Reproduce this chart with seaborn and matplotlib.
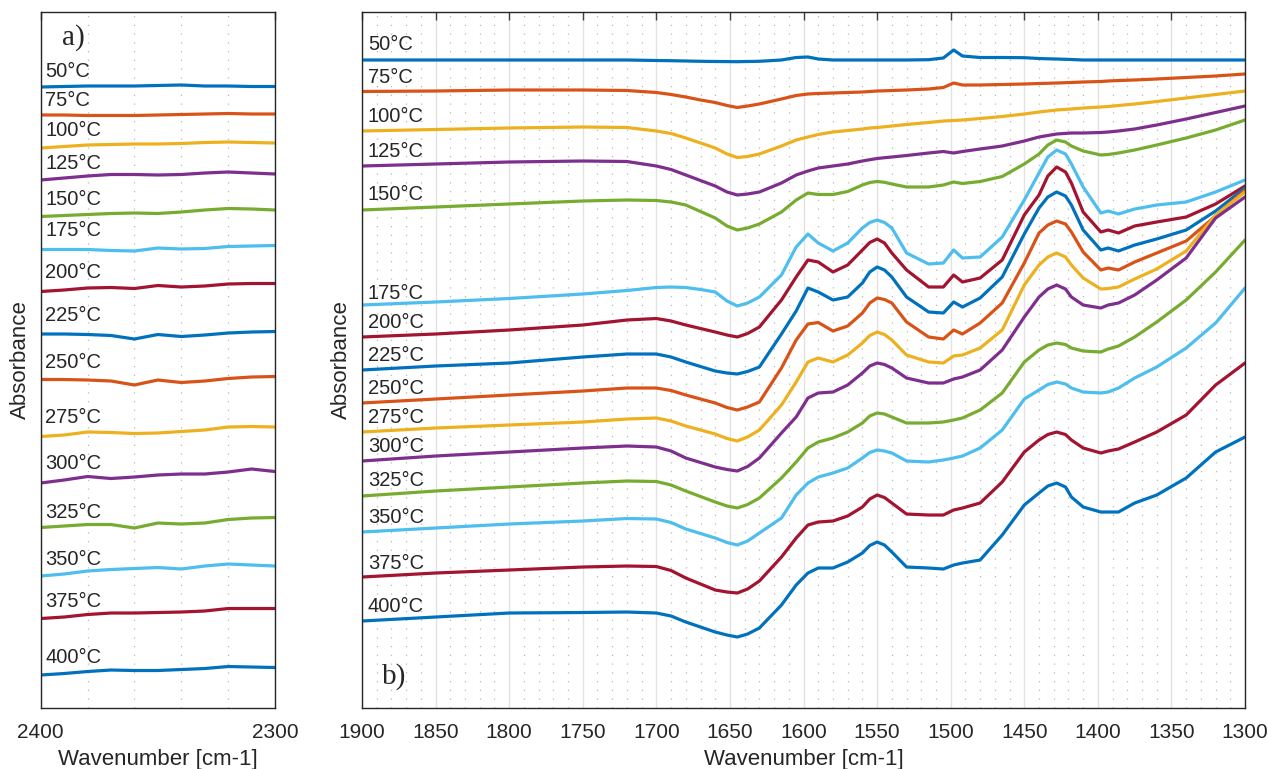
import pandas as pd
import matplotlib
matplotlib.use("Agg")
import matplotlib.pyplot as plt
import seaborn as sns
from matplotlib.ticker import MultipleLocator

# Temperatures and MATLAB-style line colours
temps = ["50°C", "75°C", "100°C", "125°C", "150°C", "175°C", "200°C", "225°C",
         "250°C", "275°C", "300°C", "325°C", "350°C", "375°C", "400°C"]
colors = ["#0072BD", "#D95319", "#EDB120", "#7E2F8E", "#77AC30", "#4DBEEE", "#A2142F",
          "#0072BD", "#D95319", "#EDB120", "#7E2F8E", "#77AC30", "#4DBEEE", "#A2142F",
          "#0072BD"]

# Panel a) 2400-2300 cm-1 (absorbance, arbitrary offset units)
wn_a = [2400, 2390, 2380, 2370, 2360, 2350, 2340, 2330, 2320, 2310, 2300]
a50 = [621, 621.5, 622, 622, 622, 622.5, 623, 622, 622, 621.5, 621.5]
a75 = [593, 593, 592.5, 592.5, 592.5, 593, 593.5, 594, 594.5, 594, 594]
a100 = [560, 561.5, 563, 563.5, 564, 564, 564.5, 565.5, 566, 565.5, 565]
a125 = [528, 530, 532, 533.5, 533.5, 533, 533.5, 535, 536, 535, 534]
a150 = [491.5, 492.5, 493.5, 494.5, 495, 494.5, 496, 498, 499.5, 499, 498]
a175 = [458.5, 458.5, 458.5, 457.5, 457, 460, 459, 459.5, 461.5, 462, 462.5]
a200 = [416.5, 418, 420, 420.5, 419.5, 422.5, 421, 422, 424, 424.5, 424.5]
a225 = [374, 374, 373.5, 372.5, 369, 373.5, 371.5, 373, 375, 376, 376.5]
a250 = [328.5, 328.5, 328, 327, 323, 328, 325.5, 327, 329.5, 331, 331.5]
a275 = [271.5, 273, 276, 275.5, 274.5, 275, 276.5, 278, 281, 281.5, 281]
a300 = [225, 228, 231.5, 229.5, 231, 233, 234, 234, 236, 239, 236.5]
a325 = [180.5, 182, 183.5, 183.5, 180, 185, 184, 185, 188.5, 190, 190.5]
a350 = [132, 134, 137, 138.5, 139.5, 140.5, 139, 142, 144, 143, 142]
a375 = [89.5, 91, 93.5, 95, 95, 95.5, 96, 97, 99.5, 99.5, 99.5]
a400 = [33, 34.5, 36.5, 38, 37.5, 37.5, 38.5, 39.5, 41.5, 41, 40.5]

# Panel b) 1900-1300 cm-1
wn_b = [1900, 1850, 1800, 1750, 1720, 1700, 1690, 1680, 1670, 1660, 1652, 1645, 1638,
        1630, 1615, 1605, 1597, 1590, 1580, 1570, 1560, 1555, 1550, 1545, 1540, 1530,
        1515, 1505, 1498, 1492, 1480, 1465, 1450, 1440, 1434, 1428, 1422, 1418, 1410,
        1398, 1393, 1386, 1375, 1360, 1340, 1320, 1300]
b50 = [648, 648, 648, 648, 648, 647.5, 647.3, 647, 646.7, 646.5, 646.4, 646.3, 646.5,
       646.7, 648, 650.5, 651, 649, 648, 648, 648, 648, 648, 648, 648, 648, 648.3, 650,
       658, 652, 650.5, 650.5, 650.3, 649.5, 649.2, 649, 648.7, 648.5, 648, 648, 648,
       648, 648, 648, 648, 648, 648]
b75 = [616.5, 617, 618, 618, 617.5, 615.5, 613.5, 611, 608, 605.5, 602.5, 600.5, 602,
       604, 609, 612.5, 614, 614.5, 615, 615.5, 616, 616.5, 617, 617.2, 617.5, 618, 619,
       620.5, 625, 623, 623, 623.5, 624, 624.5, 624.7, 625, 625.3, 625.5, 626, 626.5,
       627, 627.5, 628, 629, 630.5, 632, 634]
b100 = [577, 578.5, 580, 581, 580.5, 577, 574.5, 570, 565, 560, 554, 550.5, 551.5, 554,
        562, 568, 571, 573.5, 576, 577.5, 579, 580, 580.5, 581.2, 582, 583.5, 585.5, 587,
        587.5, 588, 589.5, 591.5, 594, 596, 597, 598, 598.6, 599, 600, 601, 601.5, 602.5,
        604, 606.5, 610, 613.5, 617]
b125 = [542, 544, 546, 547, 546.5, 542, 538.5, 533, 527.5, 522, 516, 513, 514, 516, 525,
        533, 537, 540, 542, 544, 547, 548.3, 549.5, 550.3, 551, 552.5, 555, 556.5, 555,
        556.5, 559, 562, 567, 571, 572.5, 574, 574.6, 575, 575, 575.5, 576, 577, 579, 583,
        589, 595.5, 602]
b150 = [498, 501, 504, 507, 508, 507.5, 506, 503, 496.5, 490, 482, 478, 480, 484, 496,
        508, 515, 513.5, 513.5, 516.5, 523, 525.5, 526.5, 525.7, 524, 521, 521, 523, 526,
        524.5, 526.5, 531.5, 544, 554, 563, 568, 566, 562, 557, 553, 553.5, 555, 558, 563,
        570, 578, 588]
b175 = [403, 406, 409.5, 414, 417.5, 420.5, 421, 420.5, 418.5, 416, 407, 402, 405, 411,
        433, 461, 474, 465, 457, 465, 480, 485.5, 488, 485.5, 480, 455, 444, 445, 458, 450,
        451, 471, 508, 535, 551, 558, 554, 544, 521, 495, 497, 494, 499, 503, 506, 516, 528]
b200 = [371, 374, 378, 383, 388, 389.5, 387, 383, 379.5, 376, 373, 371, 374.5, 381, 408,
        431, 448, 446, 436, 443, 458, 465.5, 469, 465, 455, 438, 421, 421, 433, 426, 430,
        448, 493, 513, 532, 541, 536, 525, 496, 476, 478, 475, 482, 486, 491, 504, 522]
b225 = [338, 342, 345, 351, 354, 354, 351, 346, 341.5, 337, 335, 334, 336.5, 341, 374,
        397, 420, 416, 408, 411, 425, 436, 441, 438, 431, 411, 396, 395, 406, 401, 410,
        431, 474, 500, 511, 516, 512, 503, 478, 458, 460, 457, 463, 469, 478, 497, 520]
b250 = [305, 309, 313, 317, 320, 320, 317.5, 313, 309, 305, 300.5, 298, 301, 306, 340,
        368, 384, 385.5, 377, 382, 395, 405, 410, 408.5, 405, 386, 371, 369, 378, 374, 385,
        405, 445, 475, 483, 487, 484, 476, 456, 438, 440, 438, 446, 455, 467, 492, 518]
b275 = [276, 280, 283, 286, 289, 290, 287, 282, 278, 274, 269.5, 267, 271, 278, 303, 326,
        346, 350, 346, 353, 365, 372.5, 376, 373.5, 368, 353, 346, 345, 352, 353, 360, 378,
        423, 443, 451, 455, 451, 443, 430, 419, 419.5, 421, 429, 439, 457, 493, 516]
b300 = [247, 252, 256, 260, 262, 261, 257, 250, 245.5, 241, 238.5, 237, 241.5, 250, 275,
        291, 310, 315, 316, 323, 335, 342, 345, 343.5, 340, 330, 325, 325, 329, 331, 338,
        358, 391, 411, 419, 423, 419, 411, 403, 400, 403, 405, 413, 428, 450, 490, 511]
b325 = [212, 217, 221, 225, 227, 226.5, 223, 217, 211.5, 206, 202, 200, 203.5, 210, 230,
        246, 260, 266, 270, 276, 285, 292, 295, 294, 291, 285, 285, 286, 288, 290, 298,
        315, 346, 358, 363, 365, 363.5, 360, 357, 356, 359, 362, 371, 386, 408, 436, 468]
b350 = [176, 180, 184, 187, 189.5, 189, 185.5, 179, 174.5, 170, 165.5, 163, 167, 175, 190,
        213, 225, 231, 235, 240, 250, 255.5, 258, 257, 255, 247, 246, 248, 250, 252, 260,
        278, 309, 318, 323.5, 326, 324, 320, 316, 315, 316, 320, 330, 341, 360, 385, 420]
b375 = [131, 135, 138, 141, 142, 141.5, 137.5, 130, 124, 118, 116, 115, 119, 127, 151,
        170, 183, 186, 187, 192, 201, 209, 213, 210.5, 205, 194, 193, 193, 198, 200, 205,
        226, 256, 268, 273.5, 276, 273.5, 268, 260, 255, 257, 259, 266, 276, 293, 323, 345]
b400 = [87, 91, 95, 95.5, 96, 95, 92, 86, 81, 76, 73, 71, 74, 80, 103, 123, 135, 140, 140,
        146, 155, 162.5, 166, 163, 156, 141, 140, 139, 143, 145, 148, 173, 203, 215, 222,
        225, 221, 211, 201, 196, 196, 196, 205, 213, 230, 256, 271]

# label heights for the temperature captions
lab_a_y = [636, 607, 578, 545, 509, 478, 436, 393, 346, 291, 245, 196, 149, 107, 51]
lab_b_y = [663, 630, 591, 557, 514, 415, 386, 353, 320, 291, 262, 228, 191, 145, 102]

set_a = [a50, a75, a100, a125, a150, a175, a200, a225, a250, a275, a300, a325, a350, a375, a400]
set_b = [b50, b75, b100, b125, b150, b175, b200, b225, b250, b275, b300, b325, b350, b375, b400]

df_a = pd.concat([pd.DataFrame({"wn": wn_a, "absorbance": y, "temp": t})
                  for t, y in zip(temps, set_a)], ignore_index=True)
df_b = pd.concat([pd.DataFrame({"wn": wn_b, "absorbance": y, "temp": t})
                  for t, y in zip(temps, set_b)], ignore_index=True)

sns.set_style("white")
plt.rcParams["font.family"] = ["Liberation Sans", "DejaVu Sans"]

fig = plt.figure(figsize=(12.68, 7.69), dpi=100)
ax1 = fig.add_axes([0.0321, 0.0793, 0.1848, 0.9051])
ax2 = fig.add_axes([0.2855, 0.0793, 0.6964, 0.9051])

for ax, df in [(ax1, df_a), (ax2, df_b)]:
    sns.lineplot(data=df, x="wn", y="absorbance", hue="temp", hue_order=temps,
                 palette=colors, estimator=None, lw=2.3, legend=False, ax=ax,
                 solid_joinstyle="round", solid_capstyle="round")

ax1.set_xlim(2400, 2300)
ax1.set_xticks([2400, 2300])
ax1.xaxis.set_minor_locator(MultipleLocator(20))
ax2.set_xlim(1900, 1300)
ax2.xaxis.set_major_locator(MultipleLocator(50))
ax2.xaxis.set_minor_locator(MultipleLocator(10))

for ax in (ax1, ax2):
    ax.set_ylim(0, 696)
    ax.set_yticks([])
    ax.grid(which="minor", axis="x", color="#b8b8b8", lw=0.9, linestyle=(0, (1, 6)))
    ax.grid(which="major", axis="x", color="#e2e2e2", lw=1.0)
    ax.set_axisbelow(True)
    ax.tick_params(axis="x", which="major", direction="in", top=True, length=6,
                   width=1, color="#404040", labelsize=15, labelcolor="#262626", pad=11)
    ax.tick_params(axis="x", which="minor", length=0)
    for s in ax.spines.values():
        s.set_color("#262626")
        s.set_linewidth(1.0)
    ax.set_xlabel("Wavenumber [cm-1]", fontsize=16, color="#262626", labelpad=5)
    ax.set_ylabel("Absorbance", fontsize=16, color="#262626", labelpad=7)

for t, y in zip(temps, lab_a_y):
    ax1.text(2398, y, t, fontsize=14.5, va="center", ha="left")
for t, y in zip(temps, lab_b_y):
    ax2.text(1896, y, t, fontsize=14.5, va="center", ha="left")

ax1.text(0.09, 0.964, "a)", transform=ax1.transAxes, fontsize=21,
         family="Liberation Serif", va="center", ha="left")
ax2.text(0.023, 0.045, "b)", transform=ax2.transAxes, fontsize=21,
         family="Liberation Serif", va="center", ha="left")

plt.savefig("out.png", dpi=100)
